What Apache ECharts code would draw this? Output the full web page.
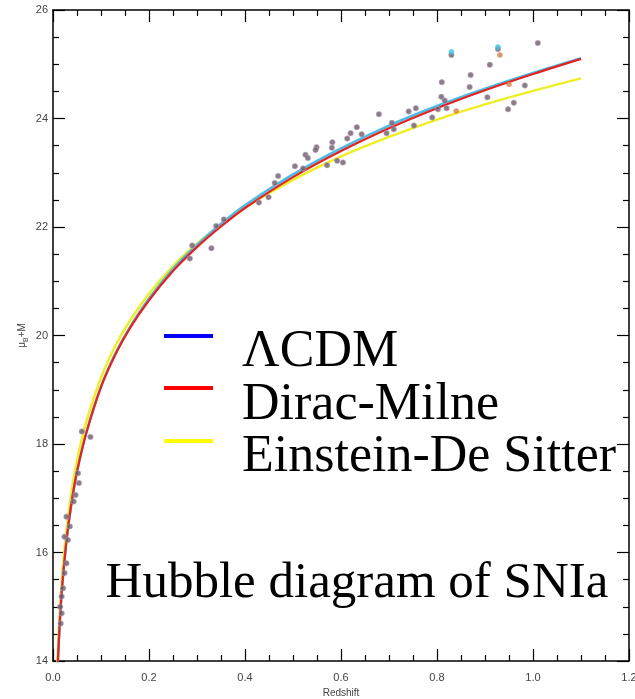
<!DOCTYPE html>
<html><head><meta charset="utf-8">
<script src="https://cdn.jsdelivr.net/npm/echarts@6/dist/echarts.min.js"></script>
<style>html,body{margin:0;padding:0;background:#fff}#c{width:635px;height:699px}</style>
</head><body><div id="c"></div>
<script>
// Model curves (redshift vs mu_B + M)
const curveZ      = [0.008, 0.01, 0.015, 0.02, 0.03, 0.04, 0.05, 0.07, 0.1, 0.13, 0.16, 0.2, 0.25, 0.3, 0.35, 0.4, 0.5, 0.6, 0.7, 0.8, 0.9, 1.0, 1.1];
const lcdmMu      = [13.46, 13.95, 14.84, 15.47, 16.36, 16.99, 17.49, 18.23, 19.06, 19.67, 20.15, 20.68, 21.23, 21.67, 22.06, 22.40, 22.97, 23.45, 23.87, 24.23, 24.55, 24.84, 25.11];
const diracMilneMu= [13.46, 13.95, 14.84, 15.47, 16.36, 16.99, 17.49, 18.22, 19.05, 19.65, 20.13, 20.65, 21.19, 21.63, 22.01, 22.35, 22.92, 23.40, 23.82, 24.19, 24.52, 24.82, 25.10];
const edsMu       = [13.69, 14.18, 15.06, 15.69, 16.57, 17.20, 17.69, 18.43, 19.22, 19.81, 20.27, 20.77, 21.28, 21.69, 22.05, 22.36, 22.87, 23.30, 23.66, 23.98, 24.26, 24.51, 24.74];

// Supernova data points
const snZ  = [0.060, 0.078, 0.052, 0.054, 0.047, 0.043, 0.028, 0.035, 0.031, 0.024, 0.028, 0.024, 0.021, 0.018, 0.015, 0.018, 0.016,
              0.290, 0.285, 0.330, 0.356, 0.340, 0.429, 0.449, 0.462, 0.469, 0.504, 0.526, 0.531, 0.521, 0.549, 0.547, 0.571, 0.582, 0.581,
              0.592, 0.604, 0.613, 0.620, 0.633, 0.643, 0.679, 0.695, 0.706, 0.710, 0.741, 0.756, 0.752,
              0.830, 0.927, 1.010, 0.910, 0.870, 0.868, 0.810, 0.809, 0.816, 0.820, 0.790, 0.802, 0.905, 0.983, 0.960, 0.948];
const snMu = [18.23, 18.13, 17.46, 17.28, 17.06, 16.94, 16.66, 16.48, 16.23, 16.29, 15.80, 15.62, 15.34, 15.19, 15.00, 14.88, 14.69,
              21.66, 21.42, 21.61, 22.14, 22.02, 22.45, 22.55, 22.81, 22.94, 23.12, 23.33, 23.27, 23.08, 23.47, 23.42, 23.14, 23.56, 23.46,
              23.22, 23.19, 23.63, 23.73, 23.84, 23.71, 24.08, 23.73, 23.92, 23.80, 24.13, 24.19, 23.87,
              25.17, 25.28, 25.39, 24.99, 24.80, 24.58, 24.67, 24.40, 24.33, 24.19, 24.02, 24.17, 24.39, 24.61, 24.29, 24.17];
const snCyanZ  = [0.830, 0.927];
const snCyanMu = [25.23, 25.32];
const snOrangeZ  = [0.931, 0.840, 0.950];
const snOrangeMu = [25.17, 24.14, 24.63];

const seriesNames = ['ΛCDM', 'Dirac-Milne', 'Einstein-De Sitter'];
const titleText = 'Hubble diagram of SNIa';
const xName = 'Redshift';

const zip = (a, b) => a.map((v, i) => [v, b[i]]);

const chart = echarts.init(document.getElementById('c'), null, {renderer: 'canvas'});

const mkAxis = (extra) => Object.assign({
  axisLine: {show: true, onZero: false, lineStyle: {color: '#000', width: 1.5}},
  axisTick: {show: true, inside: true, length: 12, lineStyle: {color: '#000', width: 1.2}},
  minorTick: {show: true, splitNumber: 4, length: 6, lineStyle: {color: '#000', width: 1.2}},
  splitLine: {show: false},
  minorSplitLine: {show: false}
}, extra);
const labelStyle = {color: '#444', fontFamily: 'Liberation Sans', fontSize: 11};

chart.setOption({
  animation: false,
  backgroundColor: '#fff',
  grid: {left: 53, right: 6, top: 10, bottom: 38, containLabel: false, outerBoundsMode: 'none'},
  xAxis: [
    mkAxis({
      type: 'value', min: 0, max: 1.2, interval: 0.2, position: 'bottom',
      name: xName, nameLocation: 'middle', nameGap: 27,
      nameTextStyle: {color: '#444', fontFamily: 'Liberation Sans', fontSize: 10},
      axisLabel: Object.assign({margin: 11, formatter: v => v.toFixed(1)}, labelStyle)
    }),
    mkAxis({
      type: 'value', min: 0, max: 1.2, interval: 0.2, position: 'top',
      axisLabel: {show: false}
    })
  ],
  yAxis: [
    mkAxis({
      type: 'value', min: 14, max: 26, interval: 2, position: 'left',
      name: '{a|μ}{b|B}{a|+M}', nameLocation: 'middle', nameGap: 26, nameRotate: 90, nameMoveOverlap: false,
      nameTextStyle: {color: '#444', fontFamily: 'Liberation Sans', fontSize: 10,
        rich: {a: {fontSize: 10, fontFamily: 'Liberation Sans', color: '#444'},
               b: {fontSize: 7, fontFamily: 'Liberation Sans', color: '#444', verticalAlign: 'bottom', padding: [0,0,-3,0]}}},
      axisLabel: Object.assign({margin: 5}, labelStyle)
    }),
    mkAxis({
      type: 'value', min: 14, max: 26, interval: 2, position: 'right',
      axisLabel: {show: false}
    })
  ],
  series: [
    {type: 'line', name: seriesNames[2], data: zip(curveZ, edsMu), showSymbol: false, smooth: 0.3,
     lineStyle: {color: '#eeee22', width: 2.5}, z: 2},
    {type: 'line', name: seriesNames[0], data: zip(curveZ, lcdmMu), showSymbol: false, smooth: 0.3,
     lineStyle: {color: '#48bde8', width: 2.5}, z: 3},
    {type: 'line', name: seriesNames[1], data: zip(curveZ, diracMilneMu), showSymbol: false, smooth: 0.3,
     lineStyle: {color: '#e52222', width: 2.2}, z: 4},
    {type: 'scatter', name: 'SNIa', data: zip(snZ, snMu), symbolSize: 5.5,
     itemStyle: {color: '#6d5d6d', borderColor: 'rgba(190,170,190,0.7)', borderWidth: 1}, z: 5},
    {type: 'scatter', name: 'SNIa cyan', data: zip(snCyanZ, snCyanMu), symbolSize: 5.5, itemStyle: {color: '#3ec8e6'}, z: 5},
    {type: 'scatter', name: 'SNIa orange', data: zip(snOrangeZ, snOrangeMu), symbolSize: 5.5, itemStyle: {color: '#d8804a'}, z: 5}
  ],
  graphic: [
    {type: 'rect', shape: {x: 164, y: 334, width: 49, height: 4}, style: {fill: '#0000ff'}},
    {type: 'rect', shape: {x: 164, y: 386, width: 49, height: 4}, style: {fill: '#ff0000'}},
    {type: 'rect', shape: {x: 164, y: 439, width: 49, height: 4}, style: {fill: '#ffff00'}},
    {type: 'text', x: 242, y: 352, style: {text: seriesNames[0], font: '52px "Liberation Serif"', fill: '#000', textVerticalAlign: 'middle'}},
    {type: 'text', x: 242, y: 405, style: {text: seriesNames[1], font: '52px "Liberation Serif"', fill: '#000', textVerticalAlign: 'middle'}},
    {type: 'text', x: 242, y: 457, style: {text: seriesNames[2], font: '52px "Liberation Serif"', fill: '#000', textVerticalAlign: 'middle'}},
    {type: 'text', x: 357, y: 584, style: {text: titleText, font: '51px "Liberation Serif"', fill: '#000', textAlign: 'center', textVerticalAlign: 'middle'}}
  ]
});
</script></body></html>
